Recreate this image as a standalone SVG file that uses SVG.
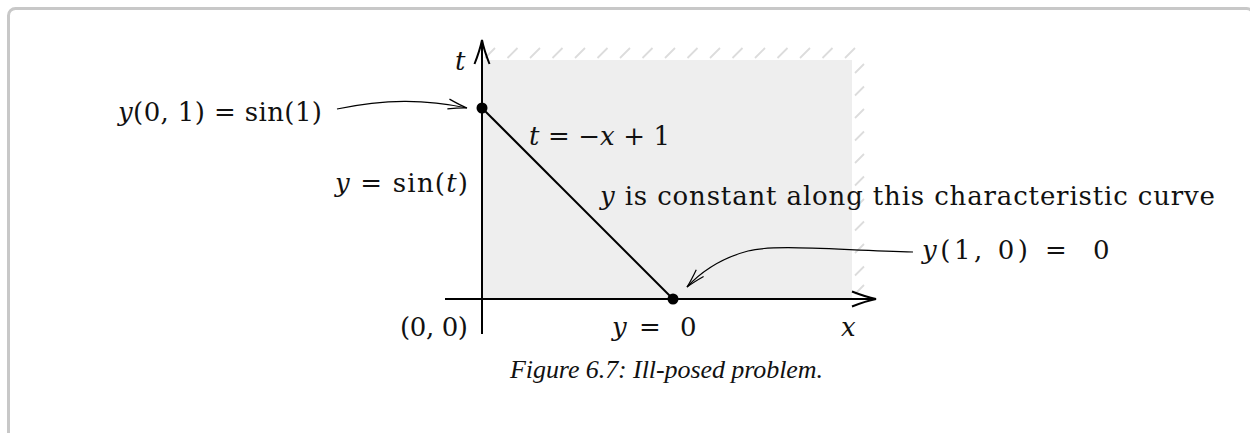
<svg xmlns="http://www.w3.org/2000/svg" width="1250" height="433" viewBox="0 0 1250 433">
<style>
text{font-family:"DejaVu Serif","Liberation Serif",serif;font-size:26px;fill:#111}
.i{font-style:italic}
.cap{font-family:"Liberation Serif",serif;font-style:italic;font-size:26px}
.axis{stroke:#000;stroke-width:2;fill:none}
.conn{stroke:#000;stroke-width:1.2;fill:none}
.hatch{stroke:#dcdcdc;stroke-width:1.8;fill:none}
</style>
<defs>
<marker id="ax" markerUnits="userSpaceOnUse" markerWidth="30" markerHeight="20" viewBox="-26 -10 30 20" refX="0" refY="0" orient="auto">
<path d="M-24,-7.5 Q-10,-2 0,0 Q-10,2 -24,7.5" fill="none" stroke="#000" stroke-width="2"/>
</marker>
<marker id="ca" markerUnits="userSpaceOnUse" markerWidth="26" markerHeight="14" viewBox="-22 -7 26 14" refX="0" refY="0" orient="auto">
<path d="M-19,-5 Q-8,-1.5 0,0 Q-8,1.5 -19,5" fill="none" stroke="#000" stroke-width="1.2"/>
</marker>
</defs>
<rect x="8.5" y="8.5" width="1245" height="432" rx="7" fill="none" stroke="#c8c8c8" stroke-width="3"/>
<g id="region">
<rect x="482" y="60" width="370" height="239" fill="#eeeeee"/>
<path class="hatch" d="M485,58 L495,48 M507.5,58 L517.5,48 M530,58 L540,48 M552.5,58 L562.5,48 M575,58 L585,48 M597.5,58 L607.5,48 M620,58 L630,48 M642.5,58 L652.5,48 M665,58 L675,48 M687.5,58 L697.5,48 M710,58 L720,48 M732.5,58 L742.5,48 M755,58 L765,48 M777.5,58 L787.5,48 M800,58 L810,48 M822.5,58 L832.5,48 M845,58 L855,48 M855,73 L864,64 M855,95.5 L864,86.5 M855,118 L864,109 M855,140.5 L864,131.5 M855,163 L864,154 M855,185.5 L864,176.5 M855,208 L864,199 M855,230.5 L864,221.5 M855,253 L864,244 M855,275.5 L864,266.5 M855,294 L864,285"/>
</g>
<g id="connectors">
<line class="axis" x1="482" y1="334" x2="482" y2="40" marker-end="url(#ax)"/>
<line class="axis" x1="445" y1="299" x2="876" y2="299" marker-end="url(#ax)"/>
<line class="axis" x1="482" y1="108" x2="673" y2="299"/>
<path class="conn" d="M337,109 C385,99 425,99 467,108" marker-end="url(#ca)"/>
<path class="conn" d="M913,252 C835,250 775,244 748,251 C718,259 700,273 687,287" marker-end="url(#ca)"/>
</g>
<g id="point-top"><circle cx="482" cy="108" r="5.5" fill="#000"/></g>
<g id="point-bottom"><circle cx="673" cy="299" r="5.5" fill="#000"/></g>
<g id="labels">
<text x="455" y="70" class="i">t</text>
<text x="118" y="121" textLength="204"><tspan class="i">y</tspan>(0, 1) = sin(1)</text>
<text x="335" y="192" textLength="133"><tspan class="i">y</tspan> = sin(<tspan class="i">t</tspan>)</text>
<text x="529" y="145" textLength="141"><tspan class="i">t</tspan> = −<tspan class="i">x</tspan> + 1</text>
<text x="600" y="205" textLength="615"><tspan class="i">y</tspan> is constant along this characteristic curve</text>
<text x="922" y="259" textLength="106"><tspan class="i">y</tspan>(1, 0)</text>
<text x="1045" y="259">=</text>
<text x="1093" y="259">0</text>
<text x="612" y="336" class="i">y</text>
<text x="639" y="336">=</text>
<text x="680" y="336">0</text>
<text x="400" y="336" textLength="68">(0, 0)</text>
<text x="841" y="336" class="i">x</text>
<text x="510" y="378" class="cap" textLength="313">Figure 6.7: Ill-posed problem.</text>
</g>
</svg>
